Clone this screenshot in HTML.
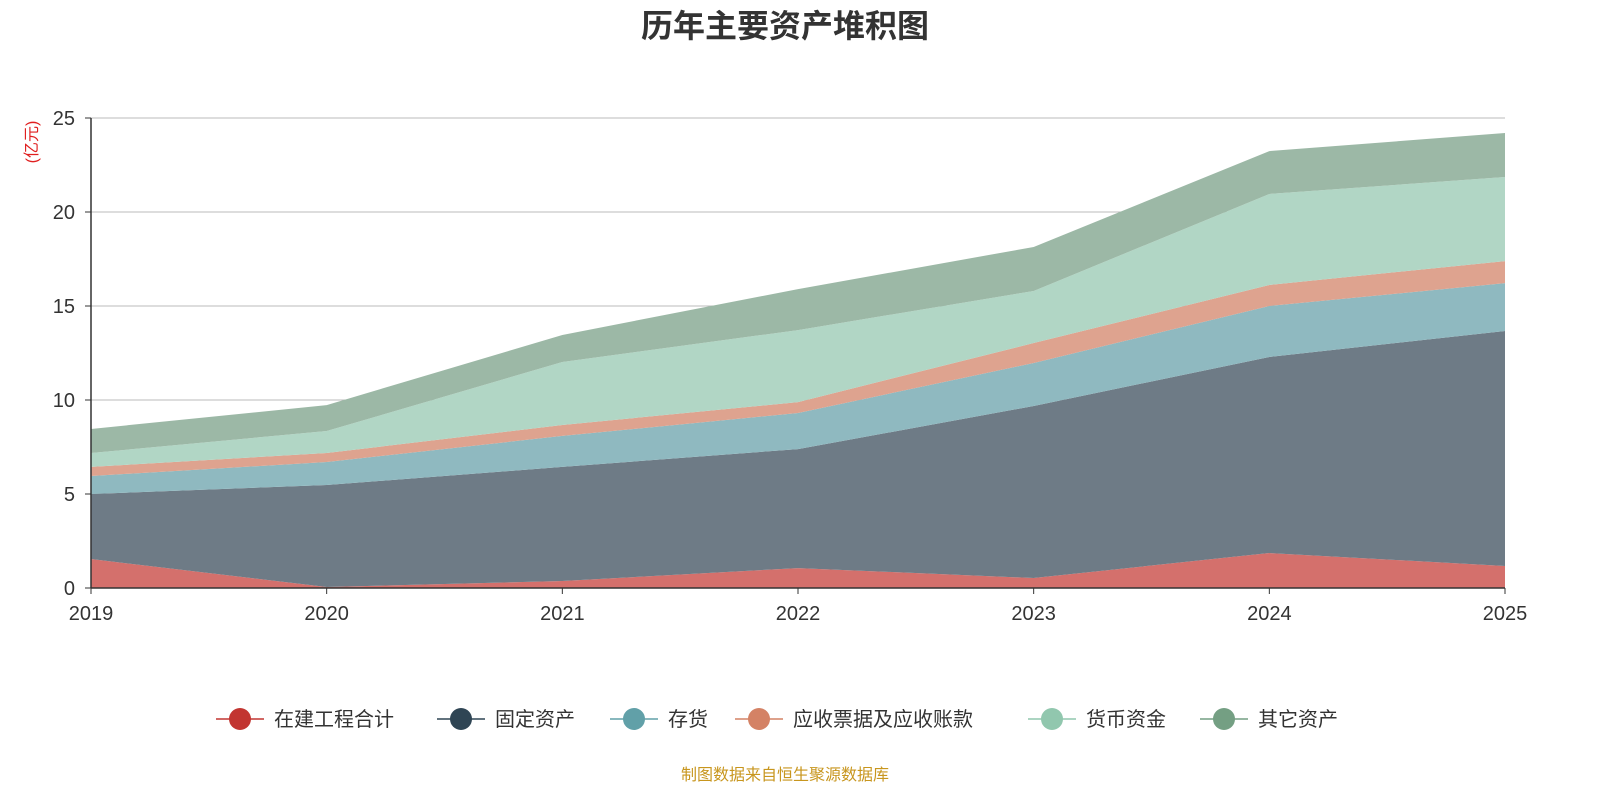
<!DOCTYPE html>
<html><head><meta charset="utf-8"><style>
body{margin:0;background:#fff;width:1600px;height:800px;overflow:hidden;font-family:"Liberation Sans","Noto Sans CJK SC",sans-serif}
</style></head><body>
<svg id="c" width="1600" height="800" style="font-family:'Liberation Sans','Noto Sans CJK SC',sans-serif">
<text x="785" y="37" text-anchor="middle" font-size="32" font-weight="bold" fill="#333">历年主要资产堆积图</text>
<text transform="translate(37,142) rotate(-90)" text-anchor="middle" font-size="16" fill="#e02020">(亿元)</text>
<text x="785" y="780" text-anchor="middle" font-size="16" fill="#c8961e">制图数据来自恒生聚源数据库</text>
</svg>
<script>
const years=["2019","2020","2021","2022","2023","2024","2025"];
const names=["在建工程合计","固定资产","存货","应收票据及应收账款","货币资金","其它资产"];
const sZaijian=[1.54,0.05,0.37,1.06,0.53,1.86,1.17];
const sGuding=[3.46,5.43,6.07,6.33,9.15,10.43,12.50];
const sCunhuo=[0.96,1.22,1.65,1.92,2.29,2.71,2.55];
const sYingshou=[0.48,0.48,0.58,0.58,1.06,1.12,1.17];
const sHuobi=[0.74,1.17,3.35,3.83,2.77,4.84,4.47];
const sQita=[1.28,1.38,1.44,2.18,2.34,2.28,2.34];
const yTicks=[0,5,10,15,20,25];
const series=[sZaijian,sGuding,sCunhuo,sYingshou,sHuobi,sQita];
const fills=["#d4706c","#6e7b86","#8fb9c0","#dea38f","#b1d6c5","#9cb8a6"];
const dots=["#c23531","#2f4554","#61a0a8","#d48265","#91c7ae","#749f83"];
const keys=["zaijian","guding","cunhuo","yingshou","huobi","qita"];
const svg=document.getElementById('c');const NS="http://www.w3.org/2000/svg";
const X0=91,X1=1505,Y0=588,Y1=118;
const xs=i=>X0+(X1-X0)*i/(years.length-1);
const ys=v=>Y0-(Y0-Y1)*v/25;
function mk(t,a){const e=document.createElementNS(NS,t);for(const k in a)e.setAttribute(k,a[k]);svg.appendChild(e);return e;}
yTicks.forEach(t=>{
 if(t>0){const g=mk('line',{x1:X0,x2:X1,y1:ys(t),y2:ys(t),stroke:'#bbb','stroke-width':1});
 
 }
 const l=mk('text',{x:75,y:ys(t)+7,'text-anchor':'end','font-size':20,fill:'#333'});l.textContent=t;
 
 
});
let base=years.map(()=>0);
series.forEach((s,k)=>{
 const top=base.map((b,i)=>b+s[i]);
 let d='M'+top.map((v,i)=>xs(i)+','+ys(v)).join('L');
 for(let i=years.length-1;i>=0;i--)d+='L'+xs(i)+','+ys(base[i]);
 const p=mk('path',{d:d+'Z',fill:fills[k]});
 
 
 base=top;
});
const ax=mk('line',{x1:X0,x2:X1,y1:Y0,y2:Y0,stroke:'#333','stroke-width':1.5});


const ay=mk('line',{x1:X0,x2:X0,y1:Y1,y2:Y0,stroke:'#333','stroke-width':1.5});


yTicks.forEach(t=>{mk('line',{x1:X0-6,x2:X0,y1:ys(t),y2:ys(t),stroke:'#333'});});
years.forEach((y,i)=>{
 mk('line',{x1:xs(i),x2:xs(i),y1:Y0,y2:Y0+6,stroke:'#333'});
 const t=mk('text',{x:xs(i),y:620,'text-anchor':'middle','font-size':20,fill:'#333'});t.textContent=y;
 
 
});
const lx=[216,437,610,735,1028,1200];
names.forEach((n,k)=>{
 const g=document.createElementNS(NS,'g');svg.appendChild(g);
 
 
 const x=lx[k];
 g.innerHTML=`<line x1="${x}" x2="${x+48}" y1="719" y2="719" stroke="${dots[k]}" stroke-width="1.5"/><circle cx="${x+24}" cy="719" r="11" fill="${dots[k]}"/><text x="${x+58}" y="726" font-size="20" fill="#333">${n}</text>`;
});
</script>
</body></html>
